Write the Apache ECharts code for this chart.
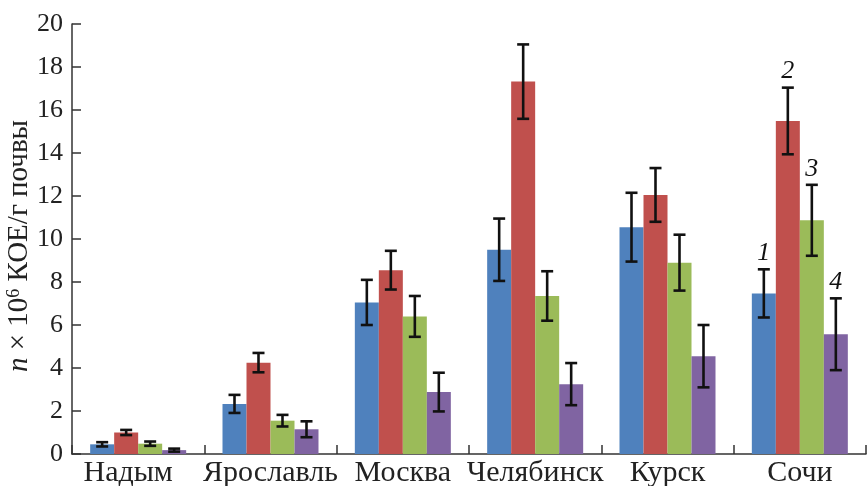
<!DOCTYPE html>
<html><head><meta charset="utf-8">
<script src="https://cdn.jsdelivr.net/npm/echarts@6/dist/echarts.min.js"></script>
<style>html,body{margin:0;padding:0;background:#fff}#c{width:868px;height:486px}</style>
</head><body><div id="c"></div>
<script>
var categories = ['Надым','Ярославль','Москва','Челябинск','Курск','Сочи'];
var seriesNames = ['1','2','3','4'];
var s1 = [0.45, 2.33, 7.05, 9.5, 10.55, 7.47];
var s2 = [1.0, 4.25, 8.55, 17.32, 12.05, 15.49];
var s3 = [0.48, 1.55, 6.4, 7.35, 8.9, 10.87];
var s4 = [0.18, 1.15, 2.88, 3.25, 4.55, 5.57];
var e1 = [0.1, 0.42, 1.05, 1.45, 1.6, 1.12];
var e2 = [0.12, 0.45, 0.9, 1.73, 1.25, 1.55];
var e3 = [0.1, 0.27, 0.95, 1.15, 1.3, 1.65];
var e4 = [0.07, 0.37, 0.9, 0.98, 1.45, 1.67];
var yTicks = [0,2,4,6,8,10,12,14,16,18,20];

var values = [s1,s2,s3,s4];
var errors = [e1,e2,e3,e4];
var colors = ['#4F81BD','#C0504D','#9BBB59','#8064A2'];
var BAR_W = 24;
var FONT = 'Liberation Serif';

var chart = echarts.init(document.getElementById('c'));
var series = [];
values.forEach(function(v, i){
  series.push({type:'bar', name:seriesNames[i], data:v, barWidth:BAR_W, barGap:'0%',
    itemStyle:{color:colors[i]}, silent:true, z:2});
});
values.forEach(function(v, i){
  var d = v.map(function(val, k){ return [k, val - errors[i][k], val + errors[i][k]]; });
  series.push({type:'custom', name:'err'+i, z:5, silent:true,
    data:d,
    renderItem:function(params, api){
      var k = api.value(0);
      var lo = api.coord([k, api.value(1)]);
      var hi = api.coord([k, api.value(2)]);
      var x = lo[0] + (i - 1.5) * BAR_W;
      var cap = 6;
      var st = {stroke:'#111', lineWidth:2.6};
      var children = [
        {type:'line', shape:{x1:x, y1:lo[1], x2:x, y2:hi[1]}, style:st},
        {type:'line', shape:{x1:x-cap, y1:lo[1], x2:x+cap, y2:lo[1]}, style:st},
        {type:'line', shape:{x1:x-cap, y1:hi[1], x2:x+cap, y2:hi[1]}, style:st}
      ];
      if (k === categories.length - 1) {
        children.push({type:'text', style:{text:seriesNames[i], x:x, y:hi[1]-3,
          textAlign:'center', textVerticalAlign:'bottom',
          font:'italic 26px "Liberation Serif"', fill:'#111'}});
      }
      return {type:'group', children:children};
    }
  });
});

var catData = categories.map(function(c, k){
  return k === 0 ? {value:c, textStyle:{padding:[0,20,0,0]}} : c;
});

chart.setOption({
  animation:false,
  backgroundColor:'#fff',
  grid:{left:72, top:24, width:794, height:430, containLabel:false, outerBoundsMode:'none'},
  xAxis:{type:'category', data:catData,
    axisLine:{lineStyle:{color:'#333', width:1.5}},
    axisTick:{show:true, inside:true, length:9, lineStyle:{color:'#333', width:1.5}},
    axisLabel:{color:'#222', fontFamily:FONT, fontSize:30, margin:4, interval:0}
  },
  yAxis:{type:'value', min:yTicks[0], max:yTicks[yTicks.length-1], interval:2,
    splitLine:{show:false},
    axisLine:{show:true, lineStyle:{color:'#333', width:1.5}},
    axisTick:{show:true, inside:true, length:9, lineStyle:{color:'#333', width:1.5}},
    axisLabel:{color:'#222', fontFamily:FONT, fontSize:26, margin:9},
    name:'{i|n} × 10{s|6} КОЕ/г почвы', nameLocation:'middle', nameGap:38, nameRotate:90,
    nameMoveOverlap:false,
    nameTextStyle:{color:'#222', fontFamily:FONT, fontSize:29, padding:[0,14,0,0],
      rich:{i:{fontStyle:'italic', fontFamily:FONT, fontSize:29, color:'#222'},
            s:{fontFamily:FONT, fontSize:18, color:'#222', verticalAlign:'top', padding:[0,0,11,0]}}}
  },
  series:series
});
</script></body></html>
